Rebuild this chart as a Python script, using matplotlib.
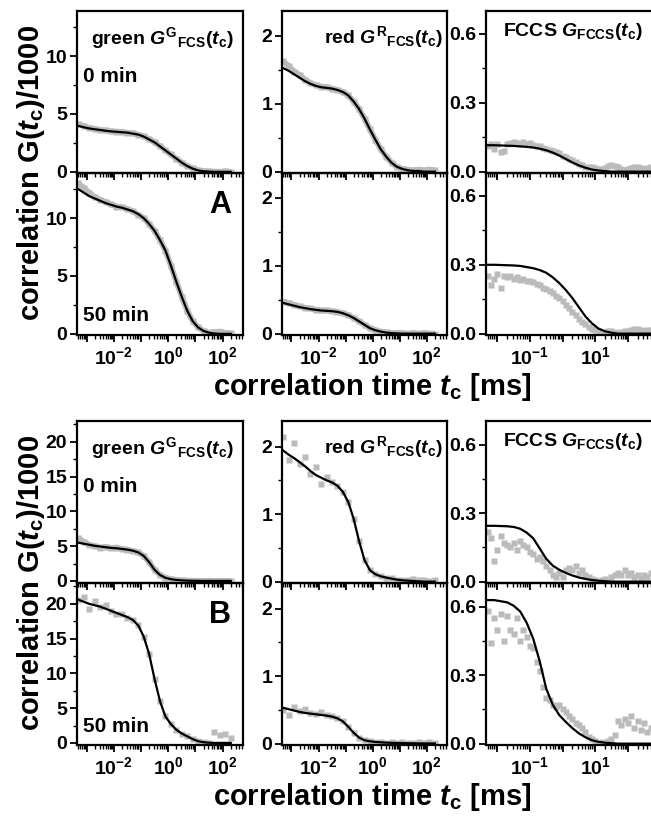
import matplotlib
matplotlib.use("Agg")
import matplotlib.pyplot as plt
from matplotlib.ticker import FixedLocator, LogLocator, NullFormatter

# ---------------- data ----------------
# lag-time exponents (log10 of t_c in ms)
fcs_exp = [-3.3, -3.1, -2.9, -2.7, -2.5, -2.3, -2.1, -1.9, -1.7, -1.5, -1.3, -1.1,
           -0.9, -0.7, -0.5, -0.3, -0.1, 0.1, 0.3, 0.5, 0.7, 0.9, 1.1, 1.3, 1.5,
           1.7, 1.9, 2.1, 2.3]
fccs_fit_exp = [-2.3, -2.1, -1.9, -1.7, -1.5, -1.3, -1.1, -0.9, -0.7, -0.5, -0.3,
                -0.1, 0.1, 0.3, 0.5, 0.7, 0.9, 1.1, 1.3, 1.5, 1.7, 1.9, 2.1, 2.3,
                2.5, 2.7, 2.9]
fccs_data_exp = [-2.3, -2.2, -2.1, -2.0, -1.9, -1.8, -1.7, -1.6, -1.5, -1.4,
                 -1.3, -1.2, -1.1, -1.0, -0.9, -0.8, -0.7, -0.6, -0.5, -0.4,
                 -0.3, -0.2, -0.1, 0.0, 0.1, 0.2, 0.3, 0.4, 0.5, 0.6,
                 0.7, 0.8, 0.9, 1.0, 1.1, 1.2, 1.3, 1.4, 1.5, 1.6,
                 1.7, 1.8, 1.9, 2.0, 2.1, 2.2, 2.3, 2.4, 2.5, 2.6,
                 2.7, 2.8, 2.9]

# Panel A, green FCS
A_G0_fit = [3.97, 3.85, 3.75, 3.68, 3.62, 3.55, 3.50, 3.46, 3.42, 3.39, 3.30, 3.22, 3.05, 2.80,
            2.55, 2.20, 1.85, 1.50, 1.15, 0.80, 0.50, 0.28, 0.12, 0.05, 0.02, 0.0, 0.0, 0.0, 0.0]
A_G0_data = [4.15, 3.95, 3.80, 3.72, 3.60, 3.58, 3.50, 3.48, 3.45, 3.38, 3.32, 3.20, 3.08, 2.82,
             2.55, 2.22, 1.85, 1.50, 1.12, 0.80, 0.50, 0.30, 0.12, 0.06, 0.03, 0.02, 0.0, 0.03, 0.0]
A_G50_fit = [12.5, 12.2, 11.9, 11.7, 11.5, 11.3, 11.15, 11.0, 10.9, 10.75, 10.6, 10.35, 10.0, 9.5,
             8.9, 8.1, 7.2, 5.9, 4.5, 3.2, 2.0, 1.1, 0.55, 0.25, 0.1, 0.03, 0.0, 0.0, 0.0]
A_G50_data = [13.0, 12.6, 12.2, 11.8, 11.6, 11.4, 11.2, 11.0, 10.95, 10.8, 10.6, 10.3, 10.0, 9.5,
              8.9, 8.1, 7.2, 5.9, 4.5, 3.2, 2.0, 1.1, 0.55, 0.25, 0.1, 0.15, 0.2, 0.1, 0.05]
# Panel A, red FCS
A_R0_fit = [1.52, 1.48, 1.43, 1.38, 1.33, 1.29, 1.26, 1.24, 1.23, 1.22, 1.20, 1.17, 1.12, 1.03,
            0.92, 0.78, 0.62, 0.47, 0.33, 0.22, 0.13, 0.07, 0.04, 0.02, 0.01, 0.01, 0.0, 0.0, 0.0]
A_R0_data = [1.62, 1.55, 1.47, 1.42, 1.35, 1.30, 1.27, 1.25, 1.24, 1.22, 1.20, 1.17, 1.12, 1.03,
             0.92, 0.78, 0.62, 0.47, 0.33, 0.22, 0.13, 0.07, 0.04, 0.03, 0.02, 0.03, 0.02, 0.03, 0.02]
A_R50_fit = [0.45, 0.43, 0.41, 0.39, 0.375, 0.36, 0.35, 0.34, 0.335, 0.33, 0.32, 0.30, 0.27, 0.23,
             0.18, 0.13, 0.08, 0.05, 0.03, 0.015, 0.008, 0.004, 0.0, 0.0, 0.0, 0.0, 0.0, 0.0, 0.0]
A_R50_data = [0.47, 0.45, 0.42, 0.40, 0.38, 0.37, 0.35, 0.34, 0.34, 0.33, 0.32, 0.30, 0.27, 0.23,
              0.18, 0.13, 0.08, 0.05, 0.03, 0.02, 0.01, 0.01, 0.01, 0.0, 0.01, 0.0, 0.01, 0.0, 0.0]
# Panel A, FCCS
A_X0_fit = [0.115, 0.115, 0.114, 0.113, 0.112, 0.110, 0.108, 0.105, 0.100, 0.093, 0.083, 0.070,
            0.055, 0.040, 0.027, 0.017, 0.009, 0.005, 0.002, 0, 0, 0, 0, 0, 0, 0, 0]
A_X0_data = [0.11, 0.12, 0.10, 0.12, 0.085, 0.09, 0.12, 0.125, 0.13, 0.125,
             0.12, 0.13, 0.12, 0.125, 0.115, 0.11, 0.11, 0.105, 0.10, 0.095,
             0.09, 0.085, 0.08, 0.07, 0.065, 0.055, 0.05, 0.04, 0.035, 0.03,
             0.02, 0.02, 0.02, 0.015, 0.01, 0.01, 0.015, 0.025, 0.03, 0.025,
             0.02, 0.01, 0.005, 0.01, 0.015, 0.02, 0.02, 0.015, 0.01, 0.015,
             0.02, 0.01, 0.015]
A_X50_fit = [0.30, 0.30, 0.299, 0.298, 0.297, 0.295, 0.29, 0.285, 0.277, 0.265, 0.245, 0.22,
             0.19, 0.155, 0.115, 0.075, 0.045, 0.022, 0.01, 0.004, 0, 0, 0, 0, 0, 0, 0]
A_X50_data = [0.25, 0.21, 0.24, 0.26, 0.20, 0.25, 0.245, 0.25, 0.24, 0.245,
              0.235, 0.24, 0.23, 0.23, 0.225, 0.215, 0.21, 0.20, 0.195, 0.185,
              0.175, 0.165, 0.155, 0.14, 0.125, 0.11, 0.095, 0.08, 0.065, 0.05,
              0.04, 0.03, 0.02, 0.015, 0.01, 0.005, 0.005, 0.01, 0.01, 0.005,
              0.0, 0.005, 0.01, 0.01, 0.015, 0.02, 0.02, 0.015, 0.01, 0.015,
              0.015, 0.01, 0.01]
# Panel B, green FCS
B_G0_fit = [5.5, 5.35, 5.2, 5.05, 4.95, 4.85, 4.75, 4.7, 4.6, 4.5, 4.35, 4.1, 3.6, 2.7,
            1.6, 0.85, 0.45, 0.25, 0.14, 0.08, 0.04, 0.02, 0.01, 0.0, 0.0, 0.0, 0.0, 0.0, 0.0]
B_G0_data = [6.2, 5.6, 5.2, 5.0, 4.8, 4.9, 4.7, 4.8, 4.6, 4.5, 4.3, 4.1, 3.6, 2.7,
             1.6, 0.85, 0.45, 0.25, 0.15, 0.08, 0.05, 0.02, 0.02, 0.0, 0.03, 0.0, 0.02, 0.0, 0.0]
B_G50_fit = [20.6, 20.3, 20.0, 19.8, 19.6, 19.3, 19.0, 18.7, 18.4, 18.1, 17.7, 16.9, 15.3, 12.8,
             9.2, 6.0, 3.8, 2.7, 1.9, 1.35, 0.95, 0.55, 0.25, 0.1, 0.03, 0.0, 0.0, 0.0, 0.0]
B_G50_data = [20.5, 21.0, 19.2, 20.4, 19.5, 19.8, 19.0, 18.5, 18.6, 18.0, 17.7, 16.9, 15.3, 12.8,
              9.2, 6.0, 3.8, 2.7, 1.9, 1.35, 0.95, 0.55, 0.3, 0.1, 0.05, 1.5, 1.2, 1.3, 0.7]
# Panel B, red FCS
B_R0_fit = [1.94, 1.88, 1.83, 1.77, 1.71, 1.64, 1.58, 1.54, 1.50, 1.47, 1.42, 1.33, 1.18, 0.93,
            0.60, 0.32, 0.17, 0.11, 0.08, 0.06, 0.045, 0.03, 0.02, 0.015, 0.01, 0.005, 0.0, 0.0, 0.0]
B_R0_data = [2.15, 1.80, 2.05, 1.75, 1.85, 1.60, 1.70, 1.45, 1.55, 1.48, 1.42, 1.33, 1.18, 0.93,
             0.60, 0.32, 0.17, 0.11, 0.08, 0.06, 0.05, 0.03, 0.02, 0.02, 0.04, 0.02, 0.03, 0.01, 0.02]
B_R50_fit = [0.53, 0.51, 0.49, 0.47, 0.455, 0.445, 0.435, 0.425, 0.415, 0.40, 0.375, 0.33, 0.25, 0.16,
             0.09, 0.05, 0.035, 0.025, 0.02, 0.015, 0.012, 0.01, 0.008, 0.006, 0.005, 0.004, 0.003,
             0.003, 0.003]
B_R50_data = [0.50, 0.43, 0.55, 0.48, 0.52, 0.45, 0.44, 0.47, 0.42, 0.41, 0.38, 0.33, 0.25, 0.16,
              0.09, 0.05, 0.035, 0.025, 0.02, 0.015, 0.02, 0.01, 0.02, 0.01, 0.015, 0.02, 0.01, 0.02,
              0.01]
# Panel B, FCCS
B_X0_fit = [0.245, 0.245, 0.244, 0.243, 0.240, 0.232, 0.215, 0.190, 0.145, 0.100, 0.070, 0.052,
            0.038, 0.027, 0.018, 0.012, 0.007, 0.004, 0.002, 0, 0, 0, 0, 0, 0, 0, 0]
B_X0_data = [0.22, 0.19, 0.09, 0.14, 0.20, 0.17, 0.16, 0.15, 0.17, 0.14,
             0.18, 0.16, 0.15, 0.13, 0.12, 0.10, 0.11, 0.09, 0.07, 0.05,
             0.03, 0.02, 0.04, 0.02, 0.05, 0.06, 0.05, 0.07, 0.04, 0.05,
             0.03, 0.02, 0.01, 0.005, 0.0, 0.005, 0.01, 0.0, 0.02, 0.03,
             0.04, 0.03, 0.05, 0.03, 0.04, 0.02, 0.03, 0.01, 0.03, 0.02,
             0.04, 0.02, 0.03]
B_X50_fit = [0.63, 0.63, 0.625, 0.62, 0.605, 0.58, 0.53, 0.46, 0.36, 0.24, 0.17, 0.125,
             0.095, 0.068, 0.045, 0.028, 0.015, 0.008, 0.004, 0.002, 0, 0, 0, 0, 0, 0, 0]
B_X50_data = [0.58, 0.44, 0.55, 0.50, 0.57, 0.45, 0.56, 0.50, 0.48, 0.55,
              0.45, 0.50, 0.47, 0.43, 0.42, 0.36, 0.32, 0.25, 0.20, 0.19,
              0.17, 0.16, 0.17, 0.15, 0.14, 0.12, 0.11, 0.09, 0.08, 0.07,
              0.05, 0.03, 0.02, 0.01, 0.0, 0.005, 0.0, 0.01, 0.02, 0.04,
              0.10, 0.08, 0.11, 0.09, 0.12, 0.07, 0.10, 0.06, 0.09, 0.05,
              0.07, 0.04, 0.06]

# tick labels
fcs_xtick_labels = {-2: r"$10^{-2}$", 0: r"$10^{0}$", 2: r"$10^{2}$"}
fccs_xtick_labels = {-1: r"$10^{-1}$", 1: r"$10^{1}$"}

# ---------------- style ----------------
plt.rcParams["font.family"] = ["Liberation Sans", "DejaVu Sans"]
plt.rcParams["font.weight"] = "bold"
plt.rcParams["mathtext.fontset"] = "custom"
plt.rcParams["mathtext.rm"] = "Liberation Sans:bold"
plt.rcParams["mathtext.it"] = "Liberation Sans:bold:italic"
plt.rcParams["mathtext.bf"] = "Liberation Sans:bold"
plt.rcParams["mathtext.sf"] = "Liberation Sans:bold"

W, H = 651, 819
fig = plt.figure(figsize=(W / 100, H / 100), dpi=100)
GRAY = "#bbbbbb"


def px_axes(x0, y0, x1, y1, z):
    ax = fig.add_axes([x0 / W, 1 - y1 / H, (x1 - x0) / W, (y1 - y0) / H])
    ax.patch.set_visible(False)
    ax.set_zorder(z)
    return ax


def ftext(x, y, s, **kw):
    fig.text(x / W, 1 - y / H, s, **kw)


def style(ax, xlim_exp, ylim, yticks, ylabels, yminor, xlabels, show_x):
    ax.set_xscale("log")
    ax.set_xlim(10 ** xlim_exp[0], 10 ** xlim_exp[1])
    ax.set_ylim(*ylim)
    decs = list(range(-4, 4))
    ax.xaxis.set_major_locator(FixedLocator([10.0 ** d for d in decs]))
    ax.set_xticklabels([xlabels.get(d, "") for d in decs])
    ax.xaxis.set_minor_locator(LogLocator(base=10, subs=range(2, 10), numticks=20))
    ax.xaxis.set_minor_formatter(NullFormatter())
    ax.yaxis.set_major_locator(FixedLocator(yticks))
    ax.set_yticklabels(ylabels)
    ax.yaxis.set_minor_locator(FixedLocator(yminor))
    ax.tick_params(which="major", direction="out", length=5, width=1.3,
                   labelsize=14, pad=2, top=False, right=False)
    ax.tick_params(which="minor", direction="out", length=3, width=1.0,
                   top=False, right=False)
    ax.tick_params(axis="x", labelbottom=show_x, pad=3)
    for sp in ax.spines.values():
        sp.set_linewidth(1.6)


def draw(ax, xfit, yfit, xdat, ydat, band):
    xd = [10 ** e for e in xdat]
    if band:
        ax.plot(xd, ydat, color=GRAY, lw=4.2, solid_capstyle="butt", zorder=2)
    ax.plot(xd, ydat, linestyle="none", marker="s", ms=4.4,
            mec="none", mfc=GRAY, zorder=2)
    ax.plot([10 ** e for e in xfit], yfit, color="black", lw=1.6, zorder=3)


cols = [(77, 243), (282, 447), (486, 662)]
blocks = [(11, 173, 335), (421, 583, 745)]
fcs_xlim = (-3.35, 2.75)
fccs_xlim = (-2.35, 3.05)

panels = {
    "A": [
        [(A_G0_fit, A_G0_data), (A_R0_fit, A_R0_data), (A_X0_fit, A_X0_data)],
        [(A_G50_fit, A_G50_data), (A_R50_fit, A_R50_data), (A_X50_fit, A_X50_data)],
    ],
    "B": [
        [(B_G0_fit, B_G0_data), (B_R0_fit, B_R0_data), (B_X0_fit, B_X0_data)],
        [(B_G50_fit, B_G50_data), (B_R50_fit, B_R50_data), (B_X50_fit, B_X50_data)],
    ],
}
# smooth (band-like) data vs. scattered squares
banded = {("A", 0, 0): True, ("A", 0, 1): True, ("A", 1, 0): True, ("A", 1, 1): True,
          ("B", 0, 0): True, ("B", 0, 1): False, ("B", 1, 0): False, ("B", 1, 1): False}

yspec = {
    ("A", 0): ((-0.1, 13.9), [0, 5, 10], ["0", "5", "10"], [2.5, 7.5, 12.5]),
    ("B", 0): ((-0.3, 23.0), [0, 5, 10, 15, 20], ["0", "5", "10", "15", "20"],
               [2.5, 7.5, 12.5, 17.5, 22.5]),
    ("A", 1): ((-0.02, 2.36), [0, 1, 2], ["0", "1", "2"], [0.5, 1.5]),
    ("B", 1): ((-0.02, 2.38), [0, 1, 2], ["0", "1", "2"], [0.5, 1.5]),
    ("A", 2): ((-0.006, 0.70), [0.0, 0.3, 0.6], ["0.0", "0.3", "0.6"], [0.15, 0.45]),
    ("B", 2): ((-0.006, 0.705), [0.0, 0.3, 0.6], ["0.0", "0.3", "0.6"], [0.15, 0.45]),
}

for bi, key in enumerate(["A", "B"]):
    ytop, ymid, ybot = blocks[bi]
    for row in range(2):
        y0, y1 = (ytop, ymid) if row == 0 else (ymid, ybot)
        for c in range(3):
            ax = px_axes(cols[c][0], y0, cols[c][1], y1, 2 - row)
            fit, dat = panels[key][row][c]
            ylim, yt, yl, ym = yspec[(key, c)]
            if c < 2:
                style(ax, fcs_xlim, ylim, yt, yl, ym, fcs_xtick_labels, row == 1)
                draw(ax, fcs_exp, fit, fcs_exp, dat, banded[(key, row, c)])
            else:
                style(ax, fccs_xlim, ylim, yt, yl, ym, fccs_xtick_labels, row == 1)
                draw(ax, fccs_fit_exp, fit, fccs_data_exp, dat, False)

    # panel annotations
    dy = 0 if key == "A" else 410
    ftext(234, 38 + dy, r"green $\mathit{G}^{\mathrm{G}}{}_{\mathrm{FCS}}(\mathit{t}_{\mathrm{c}})$",
          ha="right", va="center", fontsize=14)
    ftext(443, 37 + dy, r"red $\mathit{G}^{\mathrm{R}}{}_{\mathrm{FCS}}(\mathit{t}_{\mathrm{c}})$",
          ha="right", va="center", fontsize=14)
    ftext(643, 32 + dy, r"FCCS $\mathit{G}_{\mathrm{FCCS}}(\mathit{t}_{\mathrm{c}})$",
          ha="right", va="center", fontsize=14)
    ftext(83, 77 + dy, "0 min", ha="left", va="center", fontsize=15)
    ftext(83, 316 + dy, "50 min", ha="left", va="center", fontsize=15)
    ftext(220, 205 + dy, key, ha="center", va="center", fontsize=22)
    ftext(31, (ytop + ybot) / 2, r"correlation G($\mathit{t}_{\mathrm{c}}$)/1000",
          rotation=90, ha="center", va="center", fontsize=21)
    ftext(372, ybot + 52, r"correlation time $\mathit{t}_{\mathrm{c}}$ [ms]",
          ha="center", va="center", fontsize=21)

fig.savefig("out.png", dpi=100)
